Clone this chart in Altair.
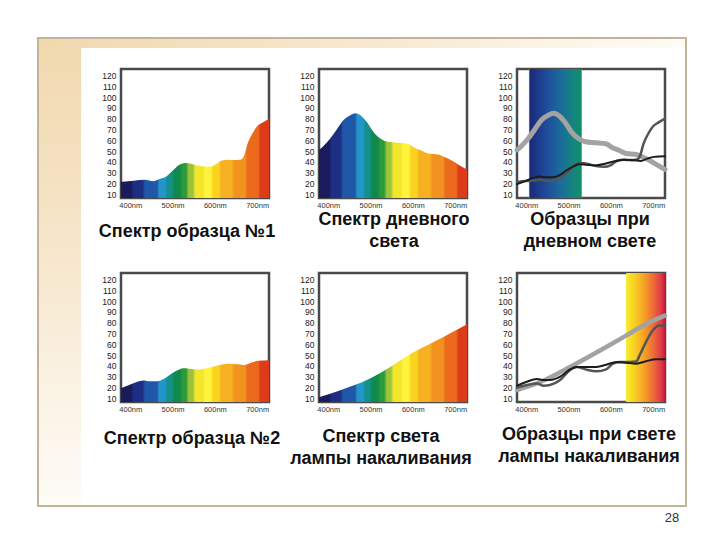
import altair as alt
import pandas as pd

# ---------------- data ----------------
# Sample 1 reflectance spectrum
s1_nm = [378, 382, 408, 435, 454, 469, 485, 500, 515, 531, 546, 562, 585, 600, 615, 631, 646, 662, 669, 677, 688, 700, 712, 728]
s1_val = [21.3, 21.5, 22.4, 23.3, 22.0, 24.0, 26.4, 31.7, 37.0, 39.0, 38.0, 36.3, 35.4, 37.0, 41.0, 42.0, 41.6, 42.2, 45.6, 56.5, 65.8, 73.0, 76.3, 80.0]

# Daylight spectrum
day_nm = [378, 388, 404, 420, 436, 452, 464, 476, 492, 508, 524, 540, 564, 588, 604, 620, 636, 660, 676, 692, 708, 728]
day_val = [51.0, 54.5, 61.4, 70.0, 78.8, 83.2, 85.0, 83.2, 76.4, 67.0, 61.4, 58.6, 57.7, 56.7, 53.0, 50.5, 47.7, 46.8, 44.3, 41.2, 37.4, 33.0]

# Sample 2 reflectance spectrum
s2_nm = [378, 382, 400, 415, 431, 446, 462, 481, 497, 512, 524, 540, 563, 586, 609, 632, 655, 671, 686, 702, 728]
s2_val = [19.5, 20.0, 22.6, 25.0, 26.4, 25.7, 25.7, 28.2, 32.6, 35.8, 37.7, 37.4, 36.7, 38.3, 40.5, 42.0, 41.4, 40.8, 43.0, 44.6, 45.2]

# Incandescent lamp spectrum
inc_nm = [378, 408, 446, 485, 524, 563, 601, 640, 679, 702, 728]
inc_val = [11.0, 14.7, 20.0, 25.7, 33.6, 43.0, 52.5, 60.3, 68.2, 72.9, 78.5]

# Curves of the last panel (under incandescent light)
inc6_nm = [378, 433, 511, 589, 636, 683, 728]
inc6_val = [17.6, 25.0, 40.6, 57.5, 68.0, 78.8, 86.5]
s1i_nm = [378, 401, 425, 441, 456, 480, 503, 519, 542, 566, 589, 605, 621, 644, 660, 668, 683, 699, 715, 728]
s1i_val = [19.8, 22.2, 23.7, 21.6, 22.2, 26.8, 36.0, 39.0, 36.5, 35.0, 36.8, 42.0, 43.6, 43.6, 44.0, 49.8, 62.0, 72.7, 77.3, 77.3]
s2i_nm = [378, 401, 425, 441, 456, 480, 503, 519, 542, 566, 589, 613, 636, 660, 683, 707, 728]
s2i_val = [21.6, 25.3, 27.8, 26.8, 26.8, 29.9, 36.6, 39.0, 39.0, 39.0, 41.0, 43.6, 42.9, 42.0, 44.3, 46.0, 46.0]

# highlighted wavelength bands
day_band = [406, 531]
inc_band = [636, 728]

# spectrum colour bands (start wavelength, colour)
band_nm = [378, 408, 435, 469, 488, 504, 523, 538, 554, 577, 596, 615, 646, 677, 708]
band_col = ["#1a1b5c", "#1d2f85", "#1f58a8", "#2196c8", "#139089", "#0f8a4c", "#2b9a3c",
            "#9cc43a", "#f2e52a", "#fff33b", "#fbd21f", "#f7b021", "#f2931f", "#ec6a1e", "#dd3c1a"]

x_ticks = [400, 500, 600, 700]
y_ticks = list(range(10, 130, 10))

titles = [
    ["Спектр образца №1"],
    ["Спектр дневного", "света"],
    ["Образцы при", "дневном свете"],
    ["Спектр образца №2"],
    ["Спектр света", "лампы накаливания"],
    ["Образцы при свете", "лампы накаливания"],
]

# ---------------- layout / style ----------------
X_DOMAIN = [378, 728]
Y_DOMAIN = [6.5, 126]
W, H = 148, 129
FONT = "Liberation Sans"

one = pd.DataFrame({"k": [0]})


def df(nm, val):
    return pd.DataFrame({"nm": nm, "v": val})


def xenc():
    return alt.X("nm:Q", scale=alt.Scale(domain=X_DOMAIN, nice=False, zero=False),
                 axis=alt.Axis(values=x_ticks, labelExpr="datum.value + 'nm'", title=None,
                               ticks=False, domain=False, grid=False, labelFontSize=7.5,
                               labelPadding=3, labelColor="#333", labelFlush=False,
                               labelFont="Liberation Sans Narrow, Liberation Sans"))


def yenc():
    return alt.Y("v:Q", scale=alt.Scale(domain=Y_DOMAIN, nice=False, zero=False),
                 axis=alt.Axis(values=y_ticks, title=None, ticks=False, domain=False, grid=False,
                               labelFontSize=8.5, labelPadding=5, labelColor="#222",
                               labelFont="Liberation Sans Narrow, Liberation Sans"))


def spectrum_gradient():
    span = X_DOMAIN[1] - X_DOMAIN[0]
    stops = []
    for i, (s, c) in enumerate(zip(band_nm, band_col)):
        e = band_nm[i + 1] if i + 1 < len(band_nm) else X_DOMAIN[1] + 6
        stops.append({"offset": max(0, (s - X_DOMAIN[0]) / span), "color": c})
        stops.append({"offset": min(1, (e - 6 - X_DOMAIN[0]) / span), "color": c})
    return {"gradient": "linear", "x1": 0, "y1": 0, "x2": 1, "y2": 0, "stops": stops}


def spectrum_area(nm, val):
    return alt.Chart(df(nm, val)).mark_area(interpolate="monotone", fill=spectrum_gradient()).encode(
        x=xenc(), y=yenc(), y2=alt.datum(Y_DOMAIN[0]))


def line(nm, val, color, width):
    return alt.Chart(df(nm, val)).mark_line(interpolate="monotone", color=color, strokeWidth=width,
                                            strokeCap="round").encode(x=xenc(), y=yenc())


def band(rng, stops):
    grad = {"gradient": "linear", "x1": 0, "y1": 0, "x2": 1, "y2": 0,
            "stops": [{"offset": o, "color": c} for o, c in stops]}
    d = pd.DataFrame({"nm": [rng[0]], "nm2": [rng[1]]})
    return alt.Chart(d).mark_rect(fill=grad).encode(
        x=xenc(), x2="nm2:Q", y=alt.value(0), y2=alt.value(H))


def title_text(lines, cx, cy):
    out = []
    for i, t in enumerate(lines):
        out.append(alt.Chart(one).mark_text(text=t, font=FONT, fontSize=18, fontWeight="bold",
                                            color="#111", align="center", baseline="middle")
                   .encode(x=alt.value(cx), y=alt.value(cy + 22 * i)))
    return out


# slide decoration (frame, tinted bands, page number), drawn behind the first panel
frame_left = alt.Chart(one).mark_rect(fill={
    "gradient": "linear", "x1": 0, "y1": 0, "x2": 0, "y2": 1,
    "stops": [{"offset": 0, "color": "#f1d8ae"}, {"offset": 0.45, "color": "#f6e6cb"},
              {"offset": 1, "color": "#fefcf8"}]}).encode(
    x=alt.value(-83), x2=alt.value(-40), y=alt.value(-31), y2=alt.value(437))
frame_top = alt.Chart(one).mark_rect(fill={
    "gradient": "linear", "x1": 0, "y1": 0, "x2": 1, "y2": 0,
    "stops": [{"offset": 0, "color": "#f1d8ae"}, {"offset": 0.5, "color": "#f7e8cf"},
              {"offset": 1, "color": "#fefcf8"}]}).encode(
    x=alt.value(-83), x2=alt.value(565), y=alt.value(-31), y2=alt.value(-21))
frame_box = alt.Chart(one).mark_rect(fillOpacity=0, stroke="#c3b497", strokeWidth=2).encode(
    x=alt.value(-83), x2=alt.value(565), y=alt.value(-31), y2=alt.value(437))
page_no = alt.Chart(one).mark_text(text="28", font=FONT, fontSize=13, color="#333",
                                   align="center", baseline="middle").encode(
    x=alt.value(551), y=alt.value(449))

LG, DG, BK = "#a3a3a3", "#555555", "#1c1c1c"

p1 = alt.layer(frame_left, frame_top, frame_box, page_no,
               spectrum_area(s1_nm, s1_val), *title_text(titles[0], 66, 163))
p2 = alt.layer(spectrum_area(day_nm, day_val), *title_text(titles[1], 75, 151))
p3 = alt.layer(
    band(day_band, [(0, "#a9c6e6"), (0.02, "#1b2a78"), (0.3, "#1f479a"), (0.6, "#1b6b9c"),
                    (0.85, "#14867e"), (1, "#109065")]),
    line(day_nm, day_val, LG, 5),
    line(s1_nm, s1_val, DG, 2.5),
    line(s2_nm, s2_val, BK, 2),
    *title_text(titles[2], 73, 151))
p4 = alt.layer(spectrum_area(s2_nm, s2_val), *title_text(titles[3], 71, 166))
p5 = alt.layer(spectrum_area(inc_nm, inc_val), *title_text(titles[4], 62, 164))
p6 = alt.layer(
    band(inc_band, [(0, "#f8ee2c"), (0.2, "#f8d222"), (0.45, "#f5a524"), (0.7, "#ee6a3a"),
                    (0.9, "#e03a48"), (1, "#c8183a")]),
    line(inc6_nm, inc6_val, LG, 4.5),
    line(s1i_nm, s1i_val, DG, 2.5),
    line(s2i_nm, s2i_val, BK, 2),
    *title_text(titles[5], 72, 162))

panels = [p.properties(width=W, height=H) for p in [p1, p2, p3, p4, p5, p6]]

chart = alt.concat(*panels, columns=3, spacing={"row": 75, "column": 50}, bounds="flush").properties(
    padding={"left": 27, "top": 27, "right": 5, "bottom": 5},
    background="white",
).configure_view(stroke="#4a4a4a", strokeWidth=2.5)

chart.save("out.html", embed_options={"renderer": "svg", "actions": False})
